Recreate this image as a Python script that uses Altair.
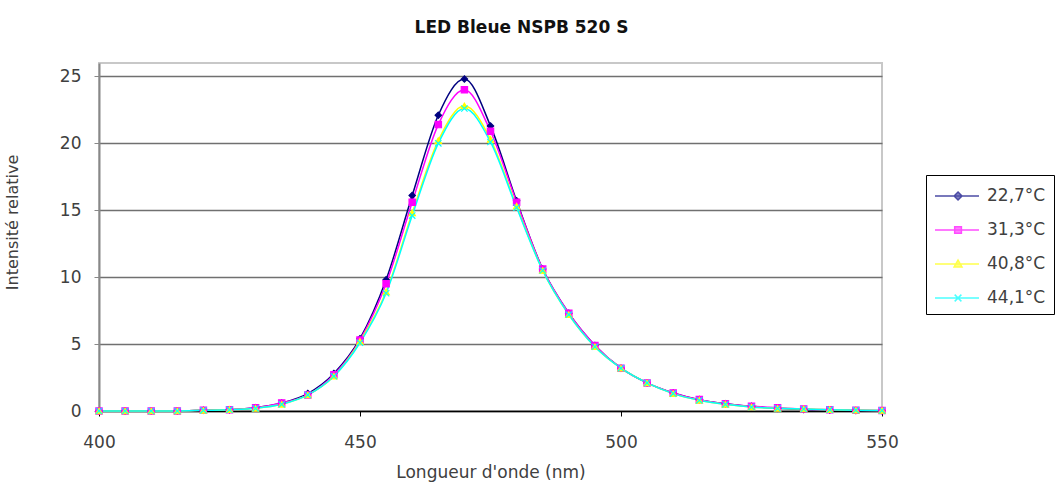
import altair as alt
import pandas as pd

wavelengths = list(range(400, 555, 5))
series_names = ["22,7°C", "31,3°C", "40,8°C", "44,1°C"]
s_227 = [0, 0, 0, 0, 0.05, 0.1, 0.25, 0.6, 1.3, 2.8, 5.4, 9.8, 16.1, 22.1, 24.8, 21.3,
         15.7, 10.6, 7.3, 4.9, 3.2, 2.1, 1.35, 0.85, 0.55, 0.35, 0.2, 0.12, 0.07, 0.04, 0.02]
s_313 = [0, 0, 0, 0, 0.05, 0.1, 0.25, 0.6, 1.2, 2.7, 5.3, 9.5, 15.6, 21.4, 24.0, 20.9,
         15.6, 10.6, 7.3, 4.9, 3.2, 2.1, 1.35, 0.85, 0.55, 0.35, 0.25, 0.15, 0.1, 0.06, 0.04]
s_408 = [0, 0, 0, 0, 0.05, 0.1, 0.2, 0.5, 1.2, 2.6, 5.2, 8.9, 14.8, 20.2, 22.8, 20.3,
         15.3, 10.5, 7.2, 4.8, 3.2, 2.1, 1.3, 0.8, 0.5, 0.3, 0.2, 0.15, 0.1, 0.06, 0.04]
s_441 = [0, 0, 0, 0, 0.05, 0.1, 0.2, 0.5, 1.2, 2.6, 5.1, 8.8, 14.6, 20.0, 22.6, 20.1,
         15.2, 10.5, 7.2, 4.8, 3.2, 2.1, 1.3, 0.8, 0.5, 0.3, 0.2, 0.15, 0.1, 0.06, 0.04]
x_ticks = [400, 450, 500, 550]
y_ticks = [0, 5, 10, 15, 20, 25]

colors = ["#000080", "#FF00FF", "#FFFF00", "#00FFFF"]
marker_shapes = ["diamond", "square", "triangle-up", "M-1,-1L1,1M1,-1L-1,1"]
legend_shapes = [
    "M-1,0H2.67M0.92,-0.33L1.25,0L0.92,0.33L0.59,0Z",
    "M-1,0H2.67M0.64,-0.28H1.2V0.28H0.64Z",
    "M-1,0H2.67M0.92,-0.33L1.25,0.25H0.59Z",
    "M-1,0H2.67M0.64,-0.28L1.2,0.28M1.2,-0.28L0.64,0.28",
]

rows = []
for name, vals in zip(series_names, [s_227, s_313, s_408, s_441]):
    for w, v in zip(wavelengths, vals):
        rows.append({"wl": w, "val": v, "series": name, "order": series_names.index(name)})
df = pd.DataFrame(rows)

FONT = "DejaVu Sans"

x_enc = alt.X("wl:Q", scale=alt.Scale(domain=[400, 550], nice=False, zero=False),
              axis=alt.Axis(values=x_ticks, title="Longueur d'onde (nm)", grid=False,
                            domainColor="black", domainWidth=1.5, tickColor="black",
                            tickSize=5, labelPadding=18, labelFontSize=17, labelFont=FONT,
                            labelFlush=False, labelColor="#404040", titleFont=FONT,
                            titleFontSize=17, titleFontWeight="normal", titleColor="#404040",
                            titlePadding=14))
y_enc = alt.Y("val:Q", scale=alt.Scale(domain=[0, 26], nice=False),
              axis=alt.Axis(values=y_ticks, title="Intensité relative", grid=True,
                            gridColor="#707070", gridWidth=1.6, domainColor="#888888",
                            domainWidth=2, tickColor="#888888", tickSize=5, labelPadding=13,
                            labelFontSize=17, labelFont=FONT, labelColor="#404040",
                            titleFont=FONT, titleFontSize=16, titleFontWeight="normal",
                            titleColor="#404040", titleX=-79, titleY=159))

color_scale = alt.Scale(domain=series_names, range=colors)

lines = alt.Chart(df).mark_line(interpolate="monotone", strokeWidth=1.5).encode(
    x=x_enc, y=y_enc,
    color=alt.Color("series:N", scale=color_scale, legend=None),
    order="order:Q",
)

points = alt.Chart(df).mark_point(filled=True, size=40, strokeWidth=1.2, opacity=1).encode(
    x="wl:Q", y="val:Q",
    fill=alt.Fill("series:N", scale=color_scale, legend=None),
    stroke=alt.Stroke("series:N", scale=color_scale, legend=None),
    shape=alt.Shape("series:N", scale=alt.Scale(domain=series_names, range=marker_shapes), legend=None),
)

leg = alt.Legend(orient="none", legendX=827, legendY=112, title=None, strokeColor="black",
                 fillColor="white", padding=8, labelFont=FONT, labelFontSize=17,
                 labelColor="#404040", symbolSize=576, symbolStrokeWidth=1.5,
                 rowPadding=13, labelOffset=27)

legend_layer = alt.Chart(df).transform_filter("datum.wl < 0").mark_point(filled=True).encode(
    x="wl:Q", y="val:Q",
    fill=alt.Fill("series:N", scale=alt.Scale(domain=series_names, range=colors), legend=leg),
    stroke=alt.Stroke("series:N", scale=alt.Scale(domain=series_names, range=colors), legend=leg),
    shape=alt.Shape("series:N", scale=alt.Scale(domain=series_names, range=legend_shapes), legend=leg),
)

chart = alt.layer(lines, points, legend_layer).resolve_scale(
    color="independent", fill="independent", stroke="independent", shape="independent"
).properties(
    width=783, height=348,
    autosize=alt.AutoSizeParams(type="none"),
    padding={"left": 99, "top": 63, "right": 182, "bottom": 84},
    title=alt.TitleParams("LED Bleue NSPB 520 S", font=FONT, fontSize=17, fontWeight="bold",
                          color="#111111", anchor="middle", dx=31, offset=26),
    background="white",
).configure_view(stroke="#c8c8c8", strokeWidth=2)

chart.save("out.html", embed_options={"renderer": "svg", "actions": False})
